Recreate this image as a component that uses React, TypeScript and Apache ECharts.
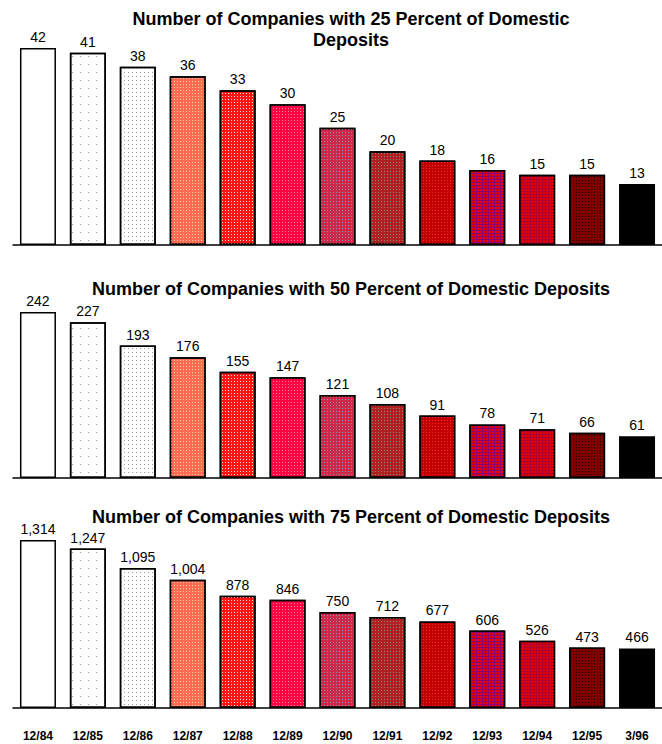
import React, { useEffect, useRef } from "react";
import * as echarts from "echarts";

const categories = ["12/84", "12/85", "12/86", "12/87", "12/88", "12/89", "12/90", "12/91", "12/92", "12/93", "12/94", "12/95", "3/96"];
const pct25 = [42, 41, 38, 36, 33, 30, 25, 20, 18, 16, 15, 15, 13];
const pct50 = [242, 227, 193, 176, 155, 147, 121, 108, 91, 78, 71, 66, 61];
const pct75 = [1314, 1247, 1095, 1004, 878, 846, 750, 712, 677, 606, 526, 473, 466];
const titles = [
  "Number of Companies with 25 Percent of Domestic\nDeposits",
  "Number of Companies with 50 Percent of Domestic Deposits",
  "Number of Companies with 75 Percent of Domestic Deposits",
];

// fill styles per category (base colour, dot colour, dot spacing)
const barStyles: { base: string; dot?: string; dash?: number[] }[] = [
  { base: "#ffffff" },
  { base: "#ffffff", dot: "#9a9a9a", dash: [1, 7] },
  { base: "#ffffff", dot: "#9a9a9a", dash: [1, 3] },
  { base: "#ff6a52", dot: "#ffd0b0", dash: [1, 2] },
  { base: "#ff1414", dot: "#ffe4e4", dash: [1, 2] },
  { base: "#ff0040", dot: "#ff80a8", dash: [1, 2] },
  { base: "#d02848", dot: "#9090b0", dash: [1, 2] },
  { base: "#b02020", dot: "#888888", dash: [1, 2] },
  { base: "#c00000", dot: "#ff2828", dash: [1, 2] },
  { base: "#900070", dot: "#e00010", dash: [2, 1] },
  { base: "#b00030", dot: "#e00008", dash: [2, 1] },
  { base: "#800000", dot: "#1a0000", dash: [1, 2] },
  { base: "#000000" },
];

const FONT = "Liberation Sans, Arial, Helvetica, sans-serif";

function buildData(values: number[]) {
  return values.map((v, i) => {
    const s = barStyles[i];
    const itemStyle: any = { color: s.base, borderColor: "#000", borderWidth: 1.5 };
    if (s.dot && s.dash) {
      itemStyle.decal = {
        symbol: "rect",
        symbolSize: 1,
        color: s.dot,
        dashArrayX: s.dash,
        dashArrayY: s.dash,
        rotation: 0,
      };
    }
    return { value: v, itemStyle };
  });
}

export default function App() {
  const ref = useRef<HTMLDivElement>(null);
  useEffect(() => {
    if (!ref.current) return;
    const chart = echarts.init(ref.current, undefined, { renderer: "svg" });
    const grids = [
      { left: 13, width: 650, top: 48, height: 197 },
      { left: 13, width: 650, top: 312, height: 166 },
      { left: 13, width: 650, top: 540, height: 168 },
    ];
    const seriesValues = [pct25, pct50, pct75];
    const titleY = [8, 278, 506];
    chart.setOption({
      animation: false,
      aria: { enabled: false },
      grid: grids,
      graphic: titles.map((t, i) => ({
        type: "text",
        x: 351,
        y: titleY[i],
        style: {
          text: t,
          textAlign: "center",
          textVerticalAlign: "top",
          font: `bold 18px ${FONT}`,
          fill: "#000",
          lineHeight: 21,
        },
      })),
      xAxis: seriesValues.map((_, i) => ({
        type: "category",
        gridIndex: i,
        data: categories,
        axisTick: { show: false },
        axisLine: { show: true, lineStyle: { color: "#000", width: 1.5 } },
        axisLabel: {
          show: i === 2,
          margin: 22,
          fontFamily: FONT,
          fontWeight: "bold",
          fontSize: 12,
          color: "#000",
        },
      })),
      yAxis: seriesValues.map((vals, i) => ({
        type: "value",
        gridIndex: i,
        min: 0,
        max: Math.max(...vals),
        show: false,
        splitLine: { show: false },
      })),
      series: seriesValues.map((vals, i) => ({
        type: "bar",
        xAxisIndex: i,
        yAxisIndex: i,
        barWidth: 36,
        data: buildData(vals),
        label: {
          show: true,
          position: "top",
          distance: 4,
          fontFamily: FONT,
          fontSize: 14,
          color: "#000",
          formatter: (p: any) => Number(p.value).toLocaleString("en-US"),
        },
      })),
    });
    return () => chart.dispose();
  }, []);
  return (
    <div
      ref={ref}
      style={{ position: "absolute", left: 0, top: 0, width: 662, height: 744, background: "#fff" }}
    />
  );
}
